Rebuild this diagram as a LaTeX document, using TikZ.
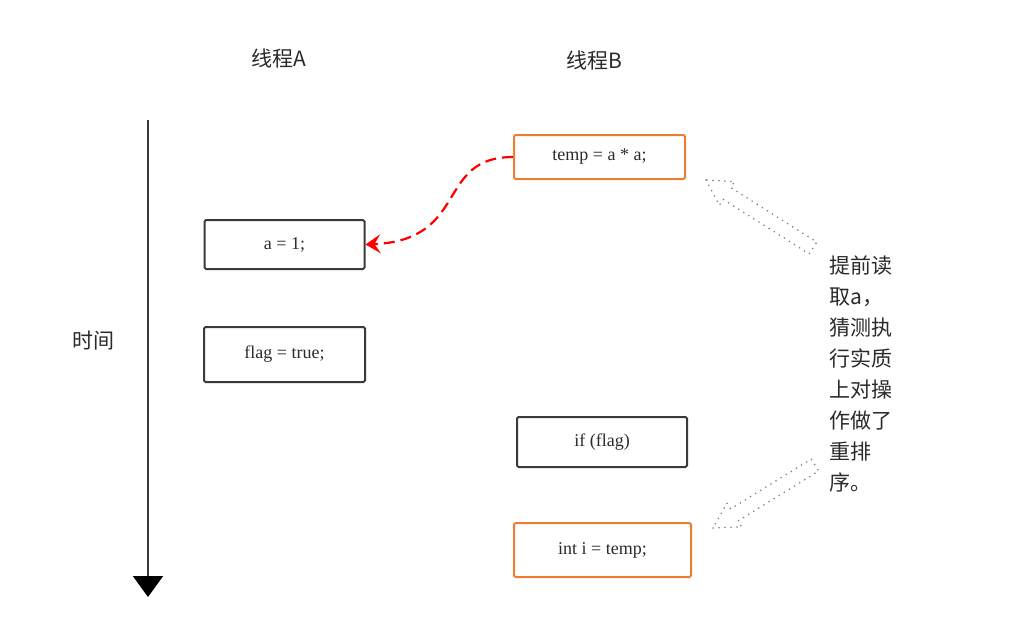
\documentclass[tikz,border=0pt]{standalone}
\usepackage{fontspec}
\setmainfont{Liberation Serif}
\newfontfamily\cjk{Noto Sans CJK SC}
\usetikzlibrary{arrows.meta}
\definecolor{boxgray}{HTML}{3A3A3A}
\definecolor{boxorange}{HTML}{ED7D31}
\definecolor{txt}{HTML}{2A2A2A}
\definecolor{dotgray}{HTML}{808080}
\tikzset{
  codebox/.style={draw=boxgray, line width=2pt, rounded corners=1.5pt, text=txt,
    font=\fontsize{18}{20}\selectfont, inner sep=0pt},
  orangebox/.style={codebox, draw=boxorange},
  cjklabel/.style={text=txt, font=\cjk\fontsize{21}{23}\selectfont, inner sep=0pt},
  dotarrow/.style={draw=dotgray, line width=1.8pt, dash pattern=on 0pt off 6pt, line cap=round, line join=round},
}
\begin{document}
\begin{tikzpicture}[x=1pt,y=-1pt]
\useasboundingbox (0,0) rectangle (1017,638);
% titles
\node[cjklabel] (ta) at (279,58) {线程A};
\node[cjklabel] (tb) at (594,60) {线程B};
\node[cjklabel] (time) at (93,341) {时间};
% time axis
\coordinate (axtop) at (148,120);
\coordinate (axbot) at (148,597);
\draw[line width=2pt, boxgray, -{Triangle[length=21pt,width=30pt,color=black]}] (axtop) -- (axbot);
% boxes thread A
\node[codebox, minimum width=160pt, minimum height=49pt] (a1) at (284.5,244.5) {a = 1;};
\node[codebox, minimum width=161pt, minimum height=55pt] (flag) at (284.5,354.5) {flag = true;};
% boxes thread B
\node[orangebox, minimum width=171pt, minimum height=44pt] (temp) at (599.5,157) {temp = a * a;};
\node[codebox, minimum width=170pt, minimum height=50pt] (iff) at (602,442) {if (flag)};
\node[orangebox, minimum width=177pt, minimum height=54pt] (inti) at (602.5,550) {int i = temp;};
% red dashed connector
\draw[red, line width=2.2pt, dash pattern=on 11pt off 6pt,
  -{Stealth[length=15pt,width=19pt,inset=6pt]}]
  (temp.west) .. controls (435,157) and (470,240) .. (a1.east);
% note text
\node[cjklabel, anchor=north west, align=left, font=\cjk\fontsize{21}{31}\selectfont]
  (note) at (829,256) {提前读\\取a，\\猜测执\\行实质\\上对操\\作做了\\重排\\序。};
% dotted block arrows
\draw[dotarrow] (706,180) -- (719.4,205.3) -- (723.2,199.4) -- (809.2,253.9) -- (816.8,242.1)
  -- (730.8,187.6) -- (734.6,181.7) -- cycle;
\draw[dotarrow] (713,528) -- (741.6,526.8) -- (738,520.9) -- (818.7,471) -- (811.3,459)
  -- (730.6,508.9) -- (726.9,503) -- cycle;
\end{tikzpicture}
\end{document}
